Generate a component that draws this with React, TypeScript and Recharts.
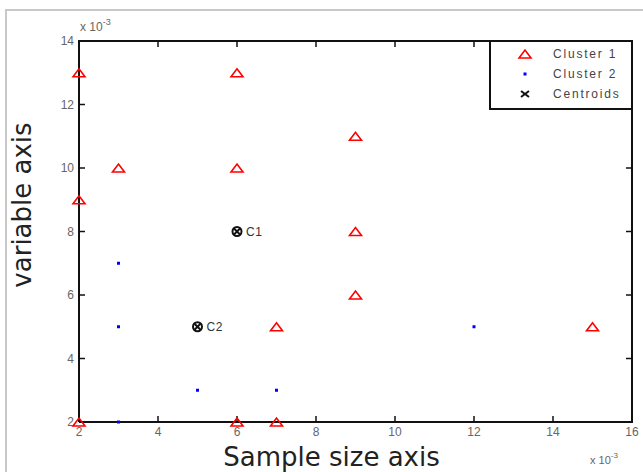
import React from 'react';
import { ScatterChart, Scatter, XAxis, YAxis } from 'recharts';

const cluster1 = [
  { x: 2, y: 13 }, { x: 6, y: 13 }, { x: 3, y: 10 }, { x: 6, y: 10 }, { x: 2, y: 9 },
  { x: 9, y: 11 }, { x: 9, y: 8 }, { x: 9, y: 6 }, { x: 7, y: 5 }, { x: 15, y: 5 },
  { x: 2, y: 2 }, { x: 6, y: 2 }, { x: 7, y: 2 },
];
const cluster2 = [
  { x: 3, y: 7 }, { x: 3, y: 5 }, { x: 5, y: 3 }, { x: 7, y: 3 }, { x: 12, y: 5 }, { x: 3, y: 2 },
];
const centroids = [
  { x: 6, y: 8, name: 'C1' },
  { x: 5, y: 5, name: 'C2' },
];
const xTicks = [2, 4, 6, 8, 10, 12, 14, 16];
const yTicks = [2, 4, 6, 8, 10, 12, 14];
const legendItems = ['Cluster 1', 'Cluster 2', 'Centroids'];
const xMin = 2, xMax = 16, yMin = 2, yMax = 14;

// axes box and tick-mark anchors, built from the axis limits / tick values
const frameBox = [
  { x: xMin, y: yMin },
  { x: xMin, y: yMax },
  { x: xMax, y: yMax },
  { x: xMax, y: yMin },
  { x: xMin, y: yMin },
];
const bottomTickPts = xTicks.map((t) => ({ x: t, y: yMin }));
const topTickPts = xTicks.map((t) => ({ x: t, y: yMax }));
const leftTickPts = yTicks.map((t) => ({ x: xMin, y: t }));
const rightTickPts = yTicks.map((t) => ({ x: xMax, y: t }));

const FONT = '"DejaVu Sans", Arial, sans-serif';
const TICK_FONT = '"Liberation Sans", Arial, sans-serif';
const INK = '#111111';

const Triangle = (props: any) => {
  const { cx, cy } = props;
  return (
    <polygon
      points={`${cx - 6},${cy + 4} ${cx + 6},${cy + 4} ${cx},${cy - 4}`}
      fill="none"
      stroke="#ff0000"
      strokeWidth={1.6}
    />
  );
};

const Dot = (props: any) => {
  const { cx, cy } = props;
  return <rect x={cx - 1.5} y={cy - 1.5} width={3} height={3} fill="#0000ff" />;
};

const Nothing = () => <g />;

const TickUp = (props: any) => {
  const { cx, cy } = props;
  return <line x1={cx} y1={cy} x2={cx} y2={cy - 6} stroke={INK} strokeWidth={1.5} />;
};
const TickDown = (props: any) => {
  const { cx, cy } = props;
  return <line x1={cx} y1={cy} x2={cx} y2={cy + 6} stroke={INK} strokeWidth={1.5} />;
};
const TickRight = (props: any) => {
  const { cx, cy } = props;
  return <line x1={cx} y1={cy} x2={cx + 6} y2={cy} stroke={INK} strokeWidth={1.5} />;
};
const TickLeft = (props: any) => {
  const { cx, cy } = props;
  return <line x1={cx} y1={cy} x2={cx - 6} y2={cy} stroke={INK} strokeWidth={1.5} />;
};

const Centroid = (props: any) => {
  const { cx, cy, payload } = props;
  return (
    <g>
      <circle cx={cx} cy={cy} r={4.5} fill="none" stroke={INK} strokeWidth={2} />
      <line x1={cx - 3.5} y1={cy - 3.5} x2={cx + 3.5} y2={cy + 3.5} stroke={INK} strokeWidth={2} />
      <line x1={cx - 3.5} y1={cy + 3.5} x2={cx + 3.5} y2={cy - 3.5} stroke={INK} strokeWidth={2} />
      <text x={cx + 9} y={cy + 4} fontSize={12} fill="#333" fontFamily={TICK_FONT} letterSpacing={0.5}>
        {payload.name}
      </text>
    </g>
  );
};

const BottomTick = (props: any) => {
  const { x, y, payload } = props;
  return (
    <text x={x} y={y + 14} textAnchor="middle" fontSize={12} fill="#666" fontFamily={TICK_FONT}>
      {payload.value}
    </text>
  );
};

const LeftTick = (props: any) => {
  const { x, y, payload } = props;
  return (
    <text x={x - 5} y={y + 4} textAnchor="end" fontSize={12} fill="#666" fontFamily={TICK_FONT}>
      {payload.value}
    </text>
  );
};

const LegendBox = () => (
  <div
    style={{
      position: 'absolute',
      left: 489,
      top: 40,
      width: 144,
      height: 70,
      border: '2px solid #111',
      background: '#fff',
      boxSizing: 'border-box',
    }}
  >
    <svg width={140} height={66} style={{ display: 'block' }}>
      {legendItems.map((name, i) => {
        const cy = 12 + i * 20;
        let mark: React.ReactNode = null;
        if (i === 0) mark = <Triangle cx={34} cy={cy} />;
        else if (i === 1) mark = <Dot cx={34} cy={cy} />;
        else
          mark = (
            <g>
              <line x1={30} y1={cy - 3} x2={38} y2={cy + 3} stroke={INK} strokeWidth={2} />
              <line x1={30} y1={cy + 3} x2={38} y2={cy - 3} stroke={INK} strokeWidth={2} />
            </g>
          );
        return (
          <g key={name}>
            {mark}
            <text x={62} y={cy + 4} fontSize={12} fill="#444" fontFamily={TICK_FONT} letterSpacing={1.8}>
              {name}
            </text>
          </g>
        );
      })}
    </svg>
  </div>
);

export default function App() {
  return (
    <div style={{ position: 'absolute', left: 0, top: 0, width: 643, height: 472, background: '#fff' }}>
      <ScatterChart width={643} height={472} margin={{ top: 41, right: 11, left: 0, bottom: 0 }}>
        <XAxis
          type="number"
          dataKey="x"
          domain={[xMin, xMax]}
          ticks={xTicks}
          height={50}
          tickSize={0}
          tickMargin={0}
          tick={<BottomTick />}
          axisLine={false}
          tickLine={false}
          label={{
            content: (p: any) => {
              const vb = p.viewBox;
              return (
                <g>
                  <text
                    x={vb.x + vb.width / 2 - 24}
                    y={vb.y + 44}
                    textAnchor="middle"
                    fontSize={26}
                    fill="#222"
                    fontFamily={FONT}
                  >
                    Sample size axis
                  </text>
                  <text x={vb.x + vb.width - 42} y={vb.y + 42} fontSize={11} fill="#666" fontFamily={TICK_FONT}>
                    x 10
                    <tspan dy={-6} fontSize={8}>-3</tspan>
                  </text>
                </g>
              );
            },
          }}
        />
        <YAxis
          type="number"
          dataKey="y"
          domain={[yMin, yMax]}
          ticks={yTicks}
          width={79}
          tickSize={0}
          tickMargin={0}
          tick={<LeftTick />}
          axisLine={false}
          tickLine={false}
          label={{
            content: (p: any) => {
              const vb = p.viewBox;
              const cx = vb.x + 31;
              const cy = vb.y + 164;
              return (
                <g>
                  <text
                    x={cx}
                    y={cy}
                    transform={`rotate(-90, ${cx}, ${cy})`}
                    textAnchor="middle"
                    fontSize={26}
                    fill="#222"
                    fontFamily={FONT}
                  >
                    variable axis
                  </text>
                  <text x={vb.x + 80} y={vb.y - 10} fontSize={12} fill="#666" fontFamily={TICK_FONT}>
                    x 10
                    <tspan dy={-6} fontSize={9}>-3</tspan>
                  </text>
                </g>
              );
            },
          }}
        />
        <Scatter
          data={frameBox}
          shape={<Nothing />}
          line={{ stroke: INK, strokeWidth: 2 }}
          isAnimationActive={false}
        />
        <Scatter data={bottomTickPts} shape={<TickUp />} isAnimationActive={false} />
        <Scatter data={topTickPts} shape={<TickDown />} isAnimationActive={false} />
        <Scatter data={leftTickPts} shape={<TickRight />} isAnimationActive={false} />
        <Scatter data={rightTickPts} shape={<TickLeft />} isAnimationActive={false} />
        <Scatter data={cluster1} shape={<Triangle />} isAnimationActive={false} />
        <Scatter data={cluster2} shape={<Dot />} isAnimationActive={false} />
        <Scatter data={centroids} shape={<Centroid />} isAnimationActive={false} />
      </ScatterChart>
      <div
        style={{
          position: 'absolute',
          left: 5,
          top: 9,
          width: 650,
          height: 480,
          borderLeft: '2px solid #c8c8c8',
          borderTop: '2px solid #c8c8c8',
          pointerEvents: 'none',
        }}
      />
      <LegendBox />
    </div>
  );
}
